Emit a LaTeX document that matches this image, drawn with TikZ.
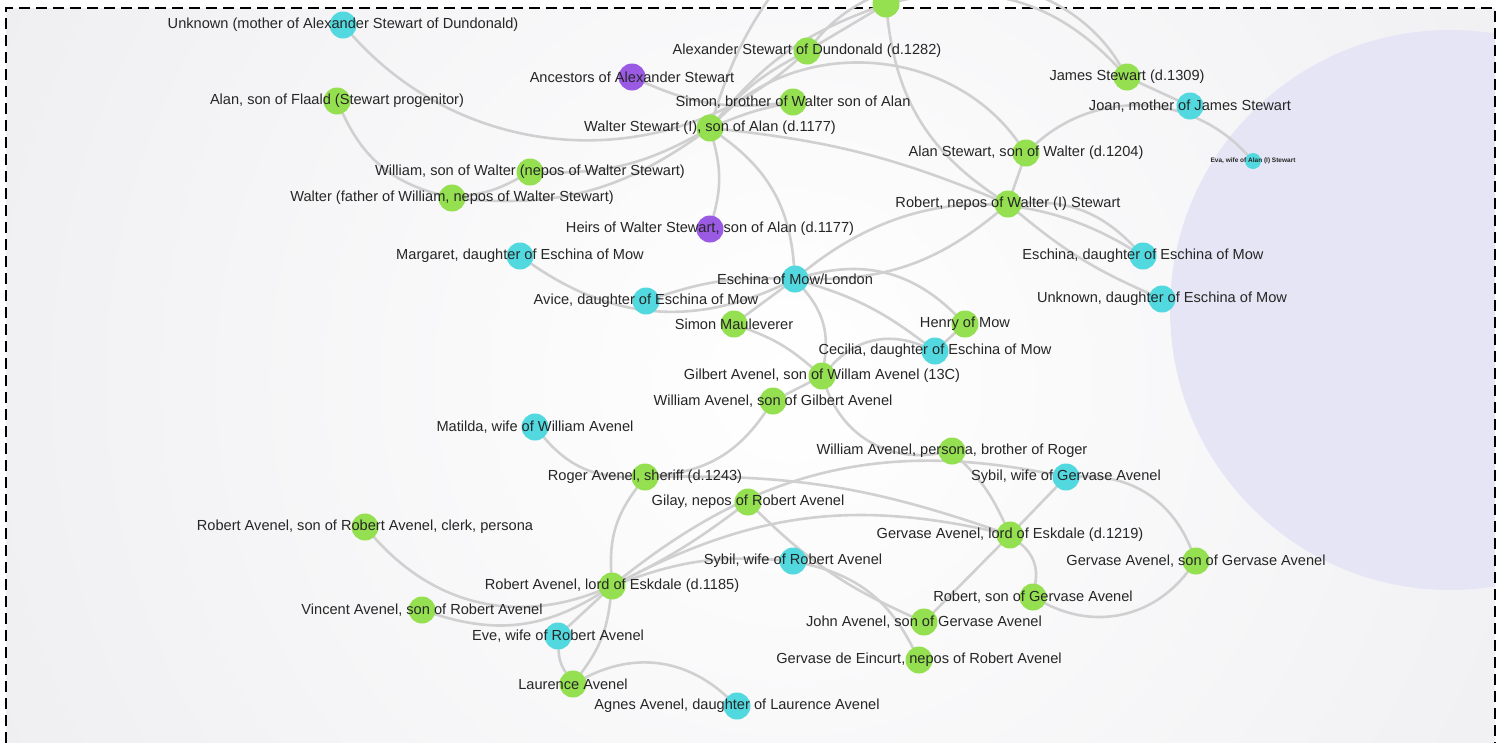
\documentclass[tikz,border=0pt]{standalone}
\usepackage{fontspec}
\setmainfont{Liberation Sans}
\pgfdeclarelayer{bg}
\pgfdeclarelayer{edges}
\pgfsetlayers{bg,edges,main}

\definecolor{nodegreen}{RGB}{148,224,80}
\definecolor{nodecyan}{RGB}{82,217,224}
\definecolor{nodepurple}{RGB}{155,90,228}
\definecolor{linkgray}{RGB}{208,208,208}
\definecolor{canvas}{RGB}{234,234,238}
\definecolor{haze}{RGB}{229,229,245}

\tikzset{
  person/.style={circle, minimum size=27pt, inner sep=0pt, draw=none},
  man/.style={person, fill=nodegreen},
  woman/.style={person, fill=nodecyan},
  kin/.style={person, fill=nodepurple},
  tag/.style={font=\fontsize{14.6}{16}\selectfont, text=black!85, inner sep=0pt},
  tinytag/.style={font=\fontsize{6.5}{7}\selectfont\bfseries, text=black!85, inner sep=0pt},
  link/.style={draw=linkgray, line width=2.6pt, line cap=round},
  frameline/.style={draw=black, line width=1.6pt, dash pattern=on 11pt off 6pt}
}

\begin{document}
\begin{tikzpicture}[x=1pt, y=1pt]
\useasboundingbox (0,0) rectangle (1503,-742);

% canvas: grey with a soft light centre and a pale lavender disc on the right
\begin{pgfonlayer}{bg}
  \fill[white] (0,0) rectangle (1503,-742);
  \begin{scope}
    \clip (6,-8) rectangle (1495,-742);
    \fill[canvas] (6,-8) rectangle (1495,-742);
    \shade[inner color=white, outer color=canvas] (790,-380) circle (1150pt);
    \fill[haze] (1450,-310) circle (280pt);
  \end{scope}
  \draw[frameline] (6,-760) -- (6,-8) -- (1495,-8) -- (1495,-760);
\end{pgfonlayer}

% ---- Stewart family ----
\node[woman, label={[tag]center:{Unknown (mother of Alexander Stewart of Dundonald)}}] (unkmother) at (343,-25) {};
\node[man] (walter2) at (886,-4) {};
\node[man, label={[tag]center:{Alexander Stewart of Dundonald (d.1282)}}] (alexander) at (807,-51) {};
\node[kin, label={[tag]center:{Ancestors of Alexander Stewart}}] (ancestors) at (632,-77) {};
\node[man, label={[tag]center:{James Stewart (d.1309)}}] (james) at (1127,-77) {};
\node[man, label={[tag]center:{Alan, son of Flaald (Stewart progenitor)}}] (alan) at (337,-101) {};
\node[man, label={[tag]center:{Simon, brother of Walter son of Alan}}] (simon) at (793,-102) {};
\node[woman, label={[tag]center:{Joan, mother of James Stewart}}] (joan) at (1190,-106) {};
\node[man, label={[tag]center:{Walter Stewart (I), son of Alan (d.1177)}}] (walter1) at (710,-128) {};
\node[man, label={[tag]center:{Alan Stewart, son of Walter (d.1204)}}] (alanst) at (1026,-153) {};
\node[woman, minimum size=16pt, label={[tinytag]center:{Eva, wife of Alan (I) Stewart}}] (eva) at (1253,-161) {};
\node[man, label={[tag]center:{William, son of Walter (nepos of Walter Stewart)}}] (williamnep) at (530,-172) {};
\node[man, label={[tag]center:{Walter (father of William, nepos of Walter Stewart)}}] (walterfa) at (452,-198) {};
\node[man, label={[tag]center:{Robert, nepos of Walter (I) Stewart}}] (robertnep) at (1008,-204) {};
\node[kin, label={[tag]center:{Heirs of Walter Stewart, son of Alan (d.1177)}}] (heirs) at (710,-229) {};

% ---- Eschina of Mow ----
\node[woman, label={[tag]center:{Margaret, daughter of Eschina of Mow}}] (margaret) at (520,-256) {};
\node[woman, label={[tag]center:{Eschina, daughter of Eschina of Mow}}] (eschinad) at (1143,-256) {};
\node[woman, label={[tag]center:{Eschina of Mow/London}}] (eschina) at (795,-279) {};
\node[woman, label={[tag]center:{Unknown, daughter of Eschina of Mow}}] (unkdau) at (1162,-299) {};
\node[woman, label={[tag]center:{Avice, daughter of Eschina of Mow}}] (avice) at (646,-301) {};
\node[man, label={[tag]center:{Simon Mauleverer}}] (simonm) at (734,-324) {};
\node[man, label={[tag]center:{Henry of Mow}}] (henry) at (965,-324) {};
\node[woman, label={[tag]center:{Cecilia, daughter of Eschina of Mow}}] (cecilia) at (935,-351) {};

% ---- Avenel family ----
\node[man, label={[tag]center:{Gilbert Avenel, son of Willam Avenel (13C)}}] (gilbert) at (822,-376) {};
\node[man, label={[tag]center:{William Avenel, son of Gilbert Avenel}}] (williamg) at (773,-401) {};
\node[woman, label={[tag]center:{Matilda, wife of William Avenel}}] (matilda) at (535,-427) {};
\node[man, label={[tag]center:{William Avenel, persona, brother of Roger}}] (williamp) at (952,-451) {};
\node[man, label={[tag]center:{Roger Avenel, sheriff (d.1243)}}] (roger) at (645,-477) {};
\node[woman, label={[tag]center:{Sybil, wife of Gervase Avenel}}] (sybilg) at (1066,-477) {};
\node[man, label={[tag]center:{Gilay, nepos of Robert Avenel}}] (gilay) at (748,-502) {};
\node[man, label={[tag]center:{Robert Avenel, son of Robert Avenel, clerk, persona}}] (robertc) at (365,-527) {};
\node[man, label={[tag]center:{Gervase Avenel, lord of Eskdale (d.1219)}}] (gervasel) at (1010,-535) {};
\node[man, label={[tag]center:{Gervase Avenel, son of Gervase Avenel}}] (gervases) at (1196,-561) {};
\node[woman, label={[tag]center:{Sybil, wife of Robert Avenel}}] (sybilr) at (793,-561) {};
\node[man, label={[tag]center:{Robert Avenel, lord of Eskdale (d.1185)}}] (robertl) at (612,-586) {};
\node[man, label={[tag]center:{Robert, son of Gervase Avenel}}] (robertg) at (1033,-597) {};
\node[man, label={[tag]center:{Vincent Avenel, son of Robert Avenel}}] (vincent) at (422,-610) {};
\node[man, label={[tag]center:{John Avenel, son of Gervase Avenel}}] (john) at (924,-622) {};
\node[woman, label={[tag]center:{Eve, wife of Robert Avenel}}] (eve) at (558,-636) {};
\node[man, label={[tag]center:{Gervase de Eincurt, nepos of Robert Avenel}}] (eincurt) at (919,-660) {};
\node[man, label={[tag]center:{Laurence Avenel}}] (laurence) at (573,-684) {};
\node[woman, label={[tag]center:{Agnes Avenel, daughter of Laurence Avenel}}] (agnes) at (737,-706) {};

\coordinate (upA) at (790,30);

% ---- links ----
\begin{pgfonlayer}{edges}
  \draw[link] (unkmother) to[bend right=45] (alexander);
  \draw[link] (alan) to[bend right=25] (walterfa);
  \draw[link] (walterfa) to[bend right=10] (williamnep);
  \draw[link] (walterfa) to[bend right=20] (walter1);
  \draw[link] (williamnep) to[bend right=15] (walter1);
  \draw[link] (ancestors) to[bend right=15] (simon);
  \draw[link] (walter1) to[bend left=5] (simon);
  \draw[link] (walter1) to[bend left=10] (alexander);
  \draw[link] (walter1) to[bend left=15] (walter2);
  \draw[link] (walter1) to[bend left=10] (upA);
  \draw[link] (alexander) -- (walter2);
  \draw[link] (walter2) to[bend left=30] (james);
  \draw[link] (alexander) to[bend left=55] (james);
  \draw[link] (walter2) to[bend right=25] (robertnep);
  \draw[link] (walter1) to[bend left=50] (alanst);
  \draw[link] (alanst) -- (robertnep);
  \draw[link] (alanst) to[bend left=45] (eva);
  \draw[link] (joan) -- (james);
  \draw[link] (walter1) to[bend left=15] (heirs);
  \draw[link] (walter1) to[bend left=25] (eschina);
  \draw[link] (walter1) to[bend left=8] (robertnep);
  \draw[link] (robertnep) to[bend left=20] (eschina);
  \draw[link] (robertnep) to[bend left=25] (eschinad);
  \draw[link] (robertnep) to[bend right=8] (unkdau);

  \draw[link] (margaret) to[bend right=30] (eschina);
  \draw[link] (eschina) to[bend right=10] (avice);
  \draw[link] (eschina) -- (simonm);
  \draw[link] (eschina) to[bend left=30] (henry);
  \draw[link] (eschina) to[bend left=10] (cecilia);
  \draw[link] (eschina) to[bend left=35] (eschinad);
  \draw[link] (henry) -- (cecilia);
  \draw[link] (cecilia) to[bend right=35] (gilbert);
  \draw[link] (eschina) to[bend left=25] (gilbert);
  \draw[link] (simonm) to[bend left=10] (gilbert);

  \draw[link] (gilbert) -- (williamg);
  \draw[link] (gilbert) to[bend right=40] (williamp);
  \draw[link] (williamg) to[bend left=25] (roger);
  \draw[link] (matilda) to[bend right=25] (roger);
  \draw[link] (roger) to[bend right=20] (robertl);
  \draw[link] (roger) to[bend left=10] (gervasel);
  \draw[link] (williamp) to[bend left=10] (gervasel);
  \draw[link] (gilay) to[bend left=5] (robertl);
  \draw[link] (robertl) to[bend left=20] (gervasel);
  \draw[link] (robertl) to[bend left=25] (sybilg);
  \draw[link] (robertl) to[bend left=12] (sybilr);
  \draw[link] (sybilr) to[bend left=25] (eincurt);
  \draw[link] (gilay) to[bend right=10] (john);
  \draw[link] (gervasel) to[bend left=30] (robertg);
  \draw[link] (gervasel) -- (john);
  \draw[link] (gervasel) -- (sybilg);
  \draw[link] (sybilg) to[bend left=35] (gervases);
  \draw[link] (gervases) to[bend left=40] (robertg);
  \draw[link] (robertc) to[bend right=35] (robertl);
  \draw[link] (vincent) to[bend right=25] (robertl);
  \draw[link] (robertl) -- (eve);
  \draw[link] (eve) to[bend right=15] (laurence);
  \draw[link] (robertl) to[bend left=15] (laurence);
  \draw[link] (laurence) to[bend left=35] (agnes);
\end{pgfonlayer}
\end{tikzpicture}
\end{document}
